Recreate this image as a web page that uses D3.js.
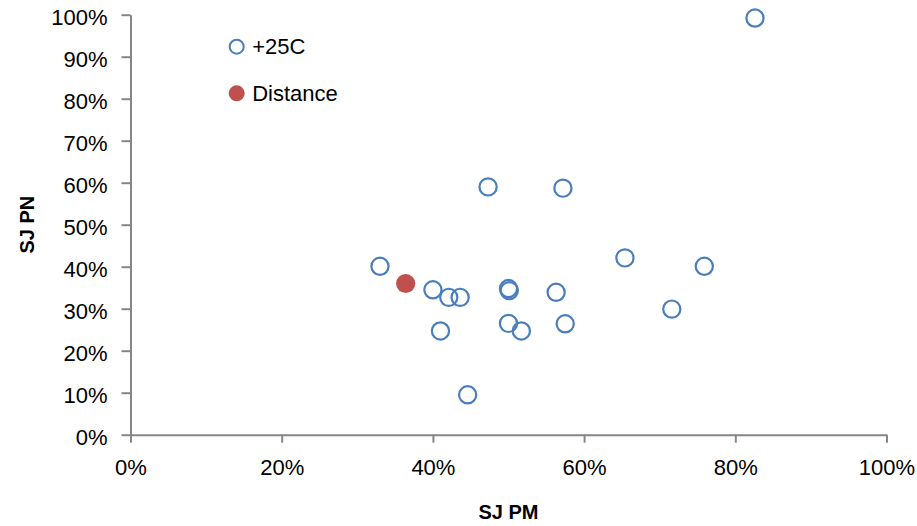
<!DOCTYPE html>
<html>
<head>
<meta charset="utf-8">
<script src="https://cdn.jsdelivr.net/npm/d3@7"></script>
<style>
  html, body { margin: 0; padding: 0; background: #fff; }
  svg { display: block; }
  text { font-family: "Liberation Sans", Arial, sans-serif; fill: #000; }
</style>
</head>
<body>
<svg id="chart" width="917" height="526"></svg>
<script>
// ---- data ----
const seriesNames = ["+25C", "Distance"];
const pmValues25C = [0.826, 0.330, 0.400, 0.421, 0.436, 0.410, 0.446, 0.473, 0.500, 0.501, 0.500, 0.517, 0.572, 0.563, 0.575, 0.654, 0.716, 0.759];
const pnValues25C = [0.992, 0.401, 0.345, 0.327, 0.327, 0.247, 0.095, 0.590, 0.348, 0.343, 0.265, 0.247, 0.587, 0.339, 0.264, 0.421, 0.299, 0.401];
const pmValuesDistance = [0.364];
const pnValuesDistance = [0.360];
const xTickValues = [0, 0.2, 0.4, 0.6, 0.8, 1.0];
const yTickValues = [0, 0.1, 0.2, 0.3, 0.4, 0.5, 0.6, 0.7, 0.8, 0.9, 1.0];
const xTitle = "SJ PM";
const yTitle = "SJ PN";

// ---- layout ----
const svg = d3.select("#chart");
const plotLeft = 130.5, plotRight = 886.5, plotTop = 14.7, plotBottom = 434.7;
const axisColor = "#868686";
const blue = "#4a7ebb", red = "#c0504d";

const x = d3.scaleLinear().domain([0, 1]).range([plotLeft, plotRight]);
const y = d3.scaleLinear().domain([0, 1]).range([plotBottom, plotTop]);
const pct = d3.format(".0%");

// x axis
const xAxis = svg.append("g")
  .attr("transform", `translate(0,${plotBottom})`)
  .call(d3.axisBottom(x).tickValues(xTickValues).tickFormat(pct).tickSizeInner(8).tickSizeOuter(0).tickPadding(11));
// y axis
const yAxis = svg.append("g")
  .attr("transform", `translate(${plotLeft},0)`)
  .call(d3.axisLeft(y).tickValues(yTickValues).tickFormat(pct).tickSizeInner(9).tickSizeOuter(0).tickPadding(14));

[xAxis, yAxis].forEach(g => {
  g.select(".domain").attr("stroke", axisColor).attr("stroke-width", 2);
  g.selectAll(".tick line").attr("stroke", axisColor).attr("stroke-width", 2);
  g.selectAll(".tick text").style("font-family", '"Liberation Sans", Arial, sans-serif').style("font-size", "22px").attr("fill", "#000");
});
yAxis.selectAll(".tick text").attr("dy", "0.45em");
xAxis.selectAll(".tick text").attr("dy", "0.95em");

// axis titles
svg.append("text")
  .attr("x", (plotLeft + plotRight) / 2).attr("y", 519)
  .attr("text-anchor", "middle")
  .style("font-size", "20px").style("font-weight", "bold")
  .text(xTitle);
svg.append("text")
  .attr("transform", `translate(34,${(plotTop + plotBottom) / 2}) rotate(-90)`)
  .attr("text-anchor", "middle")
  .style("font-size", "20px").style("font-weight", "bold")
  .text(yTitle);

// points: +25C
const pts25 = pmValues25C.map((v, i) => [v, pnValues25C[i]]);
svg.append("g").selectAll("circle").data(pts25).join("circle")
  .attr("cx", d => x(d[0])).attr("cy", d => y(d[1])).attr("r", 8.6)
  .attr("fill", "none").attr("stroke", blue).attr("stroke-width", 2.2);

// points: Distance
const ptsDist = pmValuesDistance.map((v, i) => [v, pnValuesDistance[i]]);
svg.append("g").selectAll("circle").data(ptsDist).join("circle")
  .attr("cx", d => x(d[0])).attr("cy", d => y(d[1])).attr("r", 9.6)
  .attr("fill", red).attr("stroke", "none");

// legend
const legend = svg.append("g");
const legendY = [46.7, 93.3];
seriesNames.forEach((name, i) => {
  const g = legend.append("g").attr("transform", `translate(236.7,${legendY[i]})`);
  if (i === 0) {
    g.append("circle").attr("r", 7).attr("fill", "none").attr("stroke", blue).attr("stroke-width", 2);
  } else {
    g.append("circle").attr("r", 8).attr("fill", red);
  }
  g.append("text").attr("x", 15.5).attr("y", 7.5).style("font-size", "22px").text(name);
});
</script>
</body>
</html>
